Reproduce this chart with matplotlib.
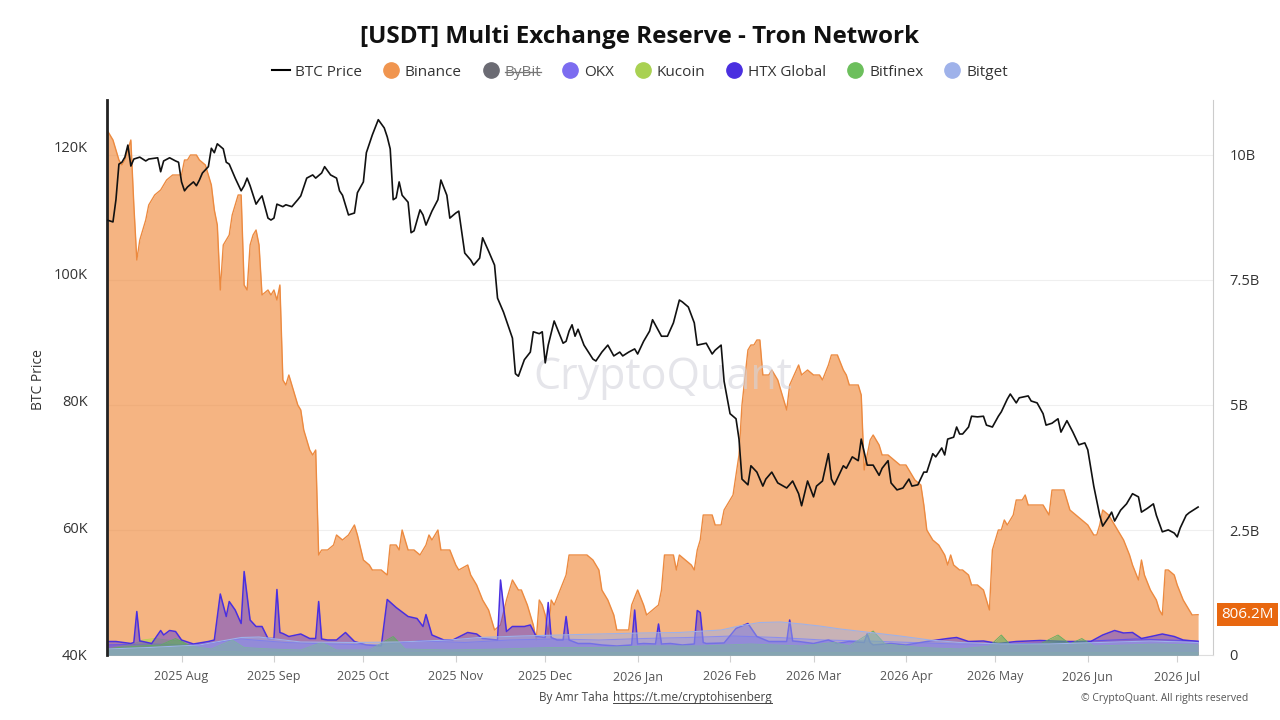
import matplotlib
matplotlib.use("Agg")
import matplotlib.pyplot as plt
import matplotlib.dates as mdates
from matplotlib.lines import Line2D
import pandas as pd

plt.rcParams["font.family"] = ["Open Sans", "DejaVu Sans"]

START = pd.Timestamp("2025-07-07")
TITLE = "[USDT] Multi Exchange Reserve - Tron Network"

# BTC price (thousand USD), day offsets from START
btc_day = [
    0, 2, 3, 4, 5, 6, 7, 8, 9, 11,
    13, 14, 17, 18, 19, 21, 23, 24, 25, 26,
    27, 29, 30, 31, 32, 34, 35, 36, 37, 39,
    40, 41, 43, 45, 46, 47, 48, 50, 51, 52,
    54, 55, 56, 57, 59, 60, 62, 64, 65, 67,
    69, 70, 72, 73, 75, 77, 78, 79, 81, 83,
    84, 86, 87, 89, 91, 93, 94, 95, 96, 97,
    98, 99, 101, 102, 103, 105, 106, 107, 109, 111,
    112, 114, 115, 117, 118, 120, 122, 123, 125, 126,
    128, 130, 131, 133, 135, 136, 137, 138, 140, 142,
    143, 145, 146, 147, 148, 150, 153, 154, 155, 156,
    157, 158, 160, 163, 164, 166, 168, 170, 172, 173,
    175, 177, 178, 180, 182, 183, 186, 188, 190, 192,
    193, 195, 197, 198, 201, 203, 204, 206, 207, 209,
    211, 212, 213, 215, 216, 218, 220, 221, 223, 225,
    228, 230, 232, 233, 235, 237, 238, 240, 242, 243,
    244, 247, 248, 250, 252, 253, 255, 257, 259, 260,
    262, 263, 265, 267, 269, 270, 272, 274, 275, 277,
    278, 280, 281, 282, 284, 285, 286, 287, 289, 290,
    292, 294, 295, 297, 299, 300, 302, 303, 305, 306,
    309, 310, 312, 314, 315, 317, 319, 320, 322, 324,
    326, 328, 329, 331, 333, 334, 336, 337, 338, 340,
    342, 344, 346, 347, 349, 351, 352, 354, 356, 358,
    359, 360, 362, 363, 366,
]
btc_price_k = [
    108.5, 108.2, 111.7, 117.3, 117.6, 118.4, 120.3, 117.0, 118.1, 118.4,
    117.8, 118.1, 118.3, 116.1, 117.8, 118.3, 117.8, 117.6, 114.5, 113.1,
    113.7, 114.5, 113.9, 114.8, 115.9, 116.9, 119.8, 119.1, 120.5, 119.7,
    117.6, 117.3, 115.1, 113.1, 113.9, 115.1, 113.9, 111.0, 111.7, 112.3,
    108.8, 108.5, 108.8, 111.0, 110.6, 110.9, 110.6, 111.7, 112.3, 115.1,
    115.6, 115.1, 115.9, 116.9, 115.6, 115.1, 113.1, 112.4, 109.3, 109.6,
    112.8, 114.5, 119.1, 121.9, 124.3, 123.0, 121.6, 119.7, 111.7, 112.0,
    114.5, 112.4, 111.3, 106.5, 106.8, 110.1, 109.3, 107.7, 109.9, 111.7,
    114.8, 112.4, 108.8, 109.6, 109.9, 103.3, 102.2, 101.4, 102.5, 105.7,
    103.6, 101.4, 96.2, 94.0, 91.3, 89.9, 84.3, 83.9, 86.5, 87.7,
    90.9, 90.6, 90.9, 86.0, 88.8, 92.6, 89.1, 89.4, 91.0, 92.0,
    90.2, 91.3, 88.8, 86.6, 86.3, 87.7, 88.8, 87.1, 87.7, 87.1,
    87.7, 88.2, 87.4, 89.4, 91.0, 92.8, 90.2, 90.2, 92.3, 95.9,
    95.6, 94.8, 92.3, 88.8, 89.1, 87.4, 88.0, 88.8, 83.1, 78.0,
    77.2, 74.0, 67.7, 66.8, 69.8, 68.8, 66.6, 67.7, 68.8, 67.1,
    66.3, 67.4, 65.4, 63.5, 67.4, 64.9, 66.6, 67.4, 71.7, 67.7,
    66.8, 69.8, 69.4, 71.2, 70.6, 74.0, 69.9, 69.9, 68.3, 69.4,
    70.6, 67.1, 66.0, 66.3, 67.7, 66.6, 66.8, 68.8, 68.8, 71.7,
    71.2, 72.6, 71.5, 74.0, 74.3, 75.9, 74.8, 74.8, 75.9, 77.6,
    77.5, 77.6, 76.2, 75.9, 77.6, 78.3, 80.3, 81.1, 79.7, 80.5,
    80.8, 80.0, 79.7, 78.0, 76.2, 76.5, 77.2, 75.1, 76.9, 75.1,
    73.1, 73.4, 72.3, 66.6, 62.0, 60.3, 61.7, 62.5, 61.1, 62.8,
    63.8, 65.4, 64.9, 62.5, 63.1, 63.8, 62.0, 59.4, 59.7, 59.2,
    58.6, 60.0, 62.0, 62.4, 63.3,
]

# Binance reserve (billion USDT)
binance_day = [
    0, 2, 3, 4, 5, 6, 7, 8, 9, 10,
    11, 13, 14, 16, 18, 20, 22, 23, 25, 26,
    27, 28, 30, 31, 33, 35, 36, 37, 38, 39,
    41, 42, 44, 45, 46, 47, 48, 49, 50, 51,
    52, 54, 55, 56, 57, 58, 59, 60, 61, 62,
    64, 65, 66, 68, 69, 70, 71, 72, 74, 76,
    77, 79, 81, 83, 84, 86, 88, 89, 91, 92,
    94, 95, 97, 98, 99, 101, 103, 105, 107, 108,
    109, 111, 112, 114, 115, 117, 118, 121, 122, 124,
    126, 128, 129, 130, 132, 134, 135, 136, 138, 139,
    141, 143, 144, 145, 146, 147, 148, 149, 150, 152,
    154, 155, 157, 159, 161, 163, 165, 166, 168, 170,
    171, 173, 175, 176, 178, 180, 181, 183, 185, 186,
    187, 188, 190, 191, 192, 194, 196, 197, 198, 199,
    200, 201, 203, 204, 206, 207, 209, 210, 212, 213,
    215, 216, 217, 218, 219, 220, 222, 223, 225, 228,
    229, 232, 233, 235, 237, 239, 240, 242, 243, 245,
    247, 248, 249, 252, 253, 254, 255, 256, 257, 259,
    260, 262, 264, 266, 268, 269, 271, 273, 274, 275,
    277, 279, 280, 281, 282, 283, 284, 286, 287, 289,
    290, 292, 294, 295, 296, 297, 299, 300, 301, 302,
    304, 305, 307, 308, 309, 310, 312, 314, 316, 317,
    319, 321, 323, 325, 327, 329, 331, 332, 333, 334,
    336, 337, 339, 341, 343, 344, 346, 347, 348, 350,
    352, 353, 354, 355, 356, 358, 359, 361, 363, 364,
    366,
]
binance_bn = [
    10.5, 10.3, 10.1, 9.9, 9.8, 9.9, 10.1, 10.3, 9.0, 7.9,
    8.3, 8.7, 9.0, 9.2, 9.3, 9.5, 9.6, 9.6, 9.6, 9.9,
    9.9, 10.0, 10.0, 9.9, 9.8, 9.4, 8.9, 8.6, 7.3, 8.2,
    8.4, 8.8, 9.2, 9.2, 7.4, 7.3, 8.2, 8.4, 8.5, 8.2,
    7.2, 7.3, 7.2, 7.3, 7.1, 7.4, 5.5, 5.4, 5.6, 5.4,
    5.0, 4.9, 4.5, 4.1, 4.0, 4.1, 2.0, 2.1, 2.1, 2.2,
    2.4, 2.3, 2.4, 2.6, 2.4, 1.9, 1.8, 1.7, 1.7, 1.7,
    1.6, 2.2, 2.2, 2.1, 2.5, 2.1, 2.1, 2.0, 2.2, 2.4,
    2.3, 2.5, 2.1, 2.1, 2.1, 1.8, 1.7, 1.8, 1.6, 1.4,
    1.1, 0.9, 0.7, 0.5, 0.6, 1.1, 1.3, 1.5, 1.3, 1.3,
    1.0, 0.6, 0.3, 1.1, 1.0, 0.8, 0.4, 1.1, 1.0, 1.3,
    1.6, 2.0, 2.0, 2.0, 2.0, 1.9, 1.7, 1.3, 1.1, 0.8,
    0.5, 0.5, 0.5, 1.0, 1.3, 1.0, 0.8, 0.9, 1.0, 1.3,
    2.0, 2.0, 2.0, 1.7, 2.0, 1.9, 1.8, 1.7, 2.1, 2.3,
    2.8, 2.8, 2.8, 2.6, 2.6, 2.9, 3.1, 3.2, 4.0, 5.0,
    6.1, 6.2, 6.2, 6.3, 6.3, 5.6, 5.6, 5.7, 5.5, 4.9,
    5.4, 5.8, 5.6, 5.7, 5.6, 5.6, 5.5, 5.8, 6.0, 6.0,
    5.7, 5.6, 5.4, 5.4, 5.2, 3.7, 4.0, 4.3, 4.4, 4.2,
    4.0, 4.0, 3.9, 3.8, 3.8, 3.7, 3.5, 3.4, 3.0, 2.5,
    2.3, 2.2, 2.1, 2.0, 1.8, 2.0, 1.8, 1.7, 1.7, 1.6,
    1.4, 1.4, 1.3, 1.1, 0.9, 2.1, 2.5, 2.5, 2.7, 2.6,
    2.8, 3.1, 3.1, 3.2, 3.0, 3.0, 3.0, 3.0, 2.8, 3.3,
    3.3, 3.3, 2.9, 2.8, 2.7, 2.6, 2.4, 2.4, 2.6, 2.9,
    2.8, 2.7, 2.5, 2.3, 2.0, 1.8, 1.5, 1.9, 1.6, 1.3,
    1.1, 0.9, 0.8, 1.7, 1.7, 1.6, 1.4, 1.1, 0.9, 0.8,
    0.8062,
]

# HTX Global reserve (billion USDT)
htx_day = [
    0, 3, 8, 9, 10, 11, 12, 15, 18, 19,
    21, 23, 25, 29, 34, 36, 38, 40, 41, 43,
    45, 46, 48, 50, 52, 54, 56, 57, 58, 59,
    61, 65, 68, 70, 71, 72, 74, 77, 80, 83,
    87, 92, 94, 97, 101, 104, 106, 107, 109, 113,
    116, 121, 124, 126, 131, 132, 134, 136, 140, 142,
    144, 147, 148, 149, 151, 153, 154, 155, 158, 162,
    166, 171, 176, 177, 178, 180, 184, 185, 186, 189,
    193, 197, 198, 199, 200, 201, 207, 211, 215, 218,
    222, 228, 229, 230, 232, 237, 242, 245, 249, 254,
    255, 256, 257, 263, 268, 275, 282, 285, 289, 294,
    299, 305, 313, 322, 330, 334, 338, 341, 344, 347,
    351, 354, 358, 361, 366,
]
htx_bn = [
    0.27, 0.27, 0.23, 0.25, 0.87, 0.28, 0.27, 0.23, 0.49, 0.40,
    0.49, 0.47, 0.30, 0.22, 0.27, 0.30, 1.22, 0.77, 1.07, 0.90,
    0.63, 1.67, 0.70, 0.57, 0.57, 0.33, 0.33, 1.31, 0.45, 0.43,
    0.37, 0.42, 0.33, 0.33, 1.07, 0.32, 0.30, 0.30, 0.45, 0.27,
    0.20, 0.18, 1.11, 0.95, 0.77, 0.73, 0.57, 0.81, 0.40, 0.30,
    0.30, 0.45, 0.42, 0.33, 0.30, 1.50, 0.47, 0.57, 0.57, 0.60,
    0.37, 0.35, 1.05, 0.35, 0.30, 0.30, 0.77, 0.30, 0.23, 0.23,
    0.20, 0.18, 0.20, 0.90, 0.22, 0.23, 0.22, 0.62, 0.22, 0.23,
    0.20, 0.22, 0.89, 0.85, 0.25, 0.23, 0.24, 0.53, 0.63, 0.37,
    0.27, 0.27, 0.70, 0.28, 0.27, 0.23, 0.30, 0.23, 0.27, 0.25,
    0.42, 0.25, 0.20, 0.23, 0.20, 0.27, 0.33, 0.35, 0.27, 0.28,
    0.23, 0.27, 0.29, 0.27, 0.27, 0.40, 0.49, 0.44, 0.45, 0.33,
    0.38, 0.42, 0.37, 0.30, 0.27,
]

okx_day = [0, 15, 30, 45, 60, 75, 90, 105, 120, 135, 150, 165, 180,
           195, 210, 225, 240, 255, 270, 285, 300, 315, 330, 345, 366]
okx_bn = [0.20, 0.22, 0.20, 0.32, 0.25, 0.22, 0.20, 0.28, 0.25, 0.30, 0.32, 0.30, 0.33,
          0.35, 0.38, 0.35, 0.30, 0.28, 0.25, 0.22, 0.22, 0.24, 0.28, 0.32, 0.28]

kucoin_day = [0, 5, 9, 12, 16, 20, 25, 28, 33, 45, 80, 150, 250, 366]
kucoin_bn = [0.12, 0.18, 0.22, 0.30, 0.33, 0.30, 0.28, 0.15, 0.08, 0.06, 0.05, 0.05, 0.05, 0.05]

bitfinex_day = [
    0, 4, 11, 18, 23, 28, 35, 42, 46, 55,
    65, 72, 77, 88, 96, 100, 115, 132, 149, 165,
    182, 199, 216, 233, 244, 249, 257, 261, 273, 286,
    296, 300, 303, 313, 319, 323, 327, 331, 342, 352,
    366,
]
bitfinex_bn = [
    0.12, 0.15, 0.18, 0.20, 0.33, 0.18, 0.12, 0.30, 0.15, 0.12,
    0.10, 0.25, 0.10, 0.10, 0.37, 0.12, 0.10, 0.12, 0.15, 0.15,
    0.18, 0.18, 0.22, 0.18, 0.25, 0.18, 0.48, 0.22, 0.15, 0.12,
    0.18, 0.40, 0.20, 0.22, 0.40, 0.22, 0.33, 0.18, 0.20, 0.22,
    0.20,
]

bitget_day = [0, 14, 31, 45, 51, 65, 82, 98, 115, 125, 139, 152, 165, 179, 192,
              206, 212, 219, 226, 233, 239, 246, 256, 266, 276, 286, 300, 316, 333, 350, 366]
bitget_bn = [0.12, 0.15, 0.20, 0.35, 0.36, 0.26, 0.25, 0.26, 0.30, 0.35, 0.38, 0.40, 0.42, 0.44, 0.45,
             0.50, 0.58, 0.65, 0.66, 0.62, 0.58, 0.52, 0.45, 0.38, 0.30, 0.25, 0.22, 0.22, 0.25, 0.28, 0.25]

left_ticks = [40, 60, 80, 100, 120]
right_ticks = [0, 2.5, 5, 7.5, 10]
right_labels = ["0", "2.5B", "5B", "7.5B", "10B"]

legend_items = [
    ("BTC Price", "#000000"),
    ("Binance", "#f0954f"),
    ("ByBit", "#6b6b73"),
    ("OKX", "#7c6cf0"),
    ("Kucoin", "#a9d152"),
    ("HTX Global", "#4a2fe0"),
    ("Bitfinex", "#6cbf5c"),
    ("Bitget", "#9fb2ea"),
]


def to_dates(days):
    return (START + pd.to_timedelta(days, unit="D")).to_pydatetime()


def area(ax, days, vals, color, alpha, lw, z, edge=None):
    x = to_dates(days)
    ax.fill_between(x, 0, vals, color=color, alpha=alpha, lw=0, zorder=z)
    ax.plot(x, vals, color=edge or color, lw=lw, zorder=z + 0.5)


W, H = 1280, 720
fig = plt.figure(figsize=(12.8, 7.2), dpi=100)
fig.patch.set_facecolor("white")

ax = fig.add_axes([107 / W, 65 / H, 1106 / W, 555 / H])
ax_btc = ax.twinx()
# reserves on the right, BTC price on the left
ax.yaxis.tick_right()
ax.yaxis.set_label_position("right")
ax_btc.yaxis.tick_left()
ax_btc.yaxis.set_label_position("left")

area(ax, binance_day, binance_bn, "#f08c3f", 0.65, 1.0, 2, edge="#ec8a40")
area(ax, okx_day, okx_bn, "#7c6cf0", 0.45, 0.8, 3)
area(ax, kucoin_day, kucoin_bn, "#b2d44e", 0.6, 0.6, 4)
area(ax, htx_day, htx_bn, "#4a2fe0", 0.45, 1.1, 5)
area(ax, bitfinex_day, bitfinex_bn, "#5fae60", 0.6, 0.6, 6)
area(ax, bitget_day, bitget_bn, "#9db1ea", 0.5, 0.8, 7)

ax.text(0.503, 0.5, "CryptoQuant", transform=ax.transAxes, ha="center", va="center",
        fontsize=31, color="#d4d4dc", alpha=0.6, zorder=9)

ax_btc.plot(to_dates(btc_day), btc_price_k, color="#111111", lw=1.2, zorder=10)

ax.set_xlim(START.to_pydatetime(), (START + pd.Timedelta(days=371)).to_pydatetime())
ax.set_ylim(0, 11.1)
ax_btc.set_ylim(40, 127.4)

ax.xaxis.set_major_locator(mdates.MonthLocator())
ax.xaxis.set_major_formatter(mdates.DateFormatter("%Y %b"))
ax.tick_params(axis="x", length=5, color="#d0d0d0", labelsize=9, labelcolor="#555555", pad=6)

ax.set_yticks(right_ticks)
ax.set_yticklabels(right_labels)
ax.tick_params(axis="y", length=0, pad=12, labelsize=10.5, labelcolor="#333333")
ax.grid(axis="y", color="#efefef", lw=0.8)
ax.set_axisbelow(True)

ax_btc.set_yticks(left_ticks)
ax_btc.set_yticklabels([f"{v}K" for v in left_ticks])
ax_btc.tick_params(axis="y", length=0, pad=14, labelsize=10.5, labelcolor="#333333")

for s in ("top", "left"):
    ax.spines[s].set_visible(False)
ax.spines["right"].set_color("#cccccc")
ax.spines["bottom"].set_color("#dddddd")
for s in ("top", "right", "bottom"):
    ax_btc.spines[s].set_visible(False)
ax_btc.spines["left"].set_color("#222222")
ax_btc.spines["left"].set_linewidth(2)

# last value tag
ax.annotate(f"{binance_bn[-1] * 1000:.1f}M", xy=(1.0, binance_bn[-1]),
            xycoords=("axes fraction", "data"), xytext=(6, 0), textcoords="offset points",
            ha="left", va="center", fontsize=11, color="white", zorder=20,
            bbox=dict(boxstyle="square,pad=0.28", fc="#e8670f", ec="none"), annotation_clip=False)

fig.text(0.5, 1 - 37 / H, TITLE, ha="center", va="center", fontsize=17.5, fontweight="bold",
         color="#111111")
fig.text(38 / W, 1 - 380 / H, "BTC Price", rotation=90, ha="center", va="center",
         fontsize=10, color="#333333")

handles = []
for name, color in legend_items:
    if name == "BTC Price":
        handles.append(Line2D([], [], color=color, lw=1.5))
    else:
        handles.append(Line2D([], [], marker="o", ls="", markersize=11, color=color))
leg = fig.legend(handles, [n for n, _ in legend_items], loc="center",
                 bbox_to_anchor=(0.5, 1 - 72 / H), ncol=8, frameon=False, fontsize=11,
                 handletextpad=0.3, columnspacing=1.3, handlelength=1.2)
for t in leg.get_texts():
    t.set_color("#333333")
leg.get_texts()[2].set_color("#777777")

fig.text(609 / W, 1 - 697 / H, "By Amr Taha", ha="right", va="center", fontsize=8.5,
         color="#444444")
url = fig.text(613 / W, 1 - 697 / H, "https://t.me/cryptohisenberg", ha="left", va="center",
               fontsize=8.5, color="#444444")
fig.text(1248 / W, 1 - 698 / H, "\u00a9 CryptoQuant. All rights reserved", ha="right",
         va="center", fontsize=7.5, color="#555555")

# strike-through on the hidden series and underline on the link
fig.canvas.draw()
bb = leg.get_texts()[2].get_window_extent()
ym = (bb.y0 + bb.y1) / 2
fig.add_artist(Line2D([bb.x0 / W, bb.x1 / W], [ym / H, ym / H], color="#777777", lw=0.9,
                      transform=fig.transFigure))
bb = url.get_window_extent()
fig.add_artist(Line2D([bb.x0 / W, bb.x1 / W], [(bb.y0 + 1) / H, (bb.y0 + 1) / H],
                      color="#444444", lw=0.7, transform=fig.transFigure))

fig.savefig("out.png", dpi=100, facecolor="white")
